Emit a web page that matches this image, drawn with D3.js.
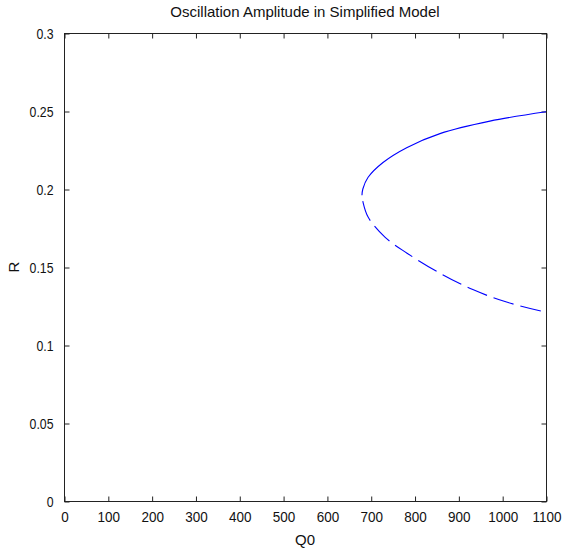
<!DOCTYPE html>
<html>
<head>
<meta charset="utf-8">
<script src="https://cdn.jsdelivr.net/npm/d3@7"></script>
<style>
  html, body { margin: 0; padding: 0; background: #fff; }
  text { font-family: "Liberation Sans Narrow", "Arial Narrow", "Liberation Sans", Arial, sans-serif; fill: #111; }
</style>
</head>
<body>
<svg id="chart" width="563" height="554"></svg>
<script>
// ---- data ----
const title = "Oscillation Amplitude in Simplified Model";
const xLabel = "Q0";
const yLabel = "R";
const xTicks = [0, 100, 200, 300, 400, 500, 600, 700, 800, 900, 1000, 1100];
const yTicks = [0, 0.05, 0.1, 0.15, 0.2, 0.25, 0.3];
const xTickLabels = ["0", "100", "200", "300", "400", "500", "600", "700", "800", "900", "1000", "1100"];
const yTickLabels = ["0", "0.05", "0.1", "0.15", "0.2", "0.25", "0.3"];

// stable (solid) branch
const upperQ0 = [680, 682, 694, 728, 782, 858, 972, 1100];
const upperR  = [0.196, 0.2, 0.2075, 0.217, 0.2265, 0.2355, 0.2435, 0.2495];
// unstable (dashed) branch
const lowerQ0 = [680, 682, 694, 733, 782, 858, 933, 1010, 1100];
const lowerR  = [0.196, 0.192, 0.182, 0.169, 0.159, 0.146, 0.1355, 0.1275, 0.121];

// ---- layout ----
const pL = 64, pR = 546, pT = 33, pB = 501;
const svg = d3.select("#chart");

const x = d3.scaleLinear().domain([0, 1100]).range([pL, pR]);
const y = d3.scaleLinear().domain([0, 0.3]).range([pB, pT]);

const tickLen = 5;
const axisColor = "#222";
const fontFam = "Liberation Sans Narrow, Arial Narrow, Liberation Sans, Arial, sans-serif";

// frame
svg.append("rect")
  .attr("x", pL + 0.5).attr("y", pT + 0.5)
  .attr("width", pR - pL).attr("height", pB - pT)
  .attr("fill", "none").attr("stroke", axisColor).attr("stroke-width", 1);

// bottom axis (ticks inward)
const xAxisB = d3.axisBottom(x).tickValues(xTicks)
  .tickFormat((d, i) => xTickLabels[i])
  .tickSizeInner(-tickLen).tickSizeOuter(0).tickPadding(10);
const gB = svg.append("g").attr("transform", `translate(0.5,${pB + 0.5})`).call(xAxisB);
gB.select(".domain").remove();
gB.selectAll("line").attr("stroke", axisColor);
gB.selectAll("text").attr("font-size", 15).attr("fill", "#111").attr("font-family", fontFam)
  .attr("transform", "scale(0.9,1)");

// top axis ticks
const xAxisT = d3.axisTop(x).tickValues(xTicks).tickFormat("")
  .tickSizeInner(-tickLen).tickSizeOuter(0);
const gT = svg.append("g").attr("transform", `translate(0.5,${pT + 0.5})`).call(xAxisT);
gT.select(".domain").remove();
gT.selectAll("line").attr("stroke", axisColor);

// left axis
const ySx = 0.82;
const yAxisL = d3.axisLeft(y).tickValues(yTicks)
  .tickFormat((d, i) => yTickLabels[i])
  .tickSizeInner(-tickLen).tickSizeOuter(0).tickPadding(11);
const gL = svg.append("g").attr("transform", `translate(${pL + 0.5},0.5)`).call(yAxisL);
gL.select(".domain").remove();
gL.selectAll("line").attr("stroke", axisColor);
gL.selectAll("text").attr("font-size", 15).attr("fill", "#111").attr("font-family", fontFam)
  .attr("x", -11 / ySx).attr("transform", `scale(${ySx},1)`);

// right axis ticks
const yAxisR = d3.axisRight(y).tickValues(yTicks).tickFormat("")
  .tickSizeInner(-tickLen).tickSizeOuter(0);
const gR = svg.append("g").attr("transform", `translate(${pR + 0.5},0.5)`).call(yAxisR);
gR.select(".domain").remove();
gR.selectAll("line").attr("stroke", axisColor);

// curves
const line = d3.line().x(d => x(d[0])).y(d => y(d[1])).curve(d3.curveCatmullRom.alpha(0.5));
const upper = upperQ0.map((q, i) => [q, upperR[i]]);
const lower = lowerQ0.map((q, i) => [q, lowerR[i]]);

svg.append("path").datum(upper).attr("d", line)
  .attr("fill", "none").attr("stroke", "#0000ff").attr("stroke-width", 1.1);
svg.append("path").datum(lower).attr("d", line)
  .attr("fill", "none").attr("stroke", "#0000ff").attr("stroke-width", 1.1)
  .attr("stroke-dasharray", "21,7").attr("stroke-dashoffset", -6);

// title & labels
svg.append("text").attr("x", (pL + pR) / 2).attr("y", 17)
  .attr("text-anchor", "middle").attr("font-size", 15).attr("font-family", fontFam).text(title);
svg.append("text").attr("x", (pL + pR) / 2).attr("y", 545)
  .attr("text-anchor", "middle").attr("font-size", 15).attr("font-family", fontFam).text(xLabel);
svg.append("text").attr("transform", `translate(19,${(pT + pB) / 2}) rotate(-90)`)
  .attr("text-anchor", "middle").attr("font-size", 15).attr("font-family", fontFam).text(yLabel);
</script>
</body>
</html>
